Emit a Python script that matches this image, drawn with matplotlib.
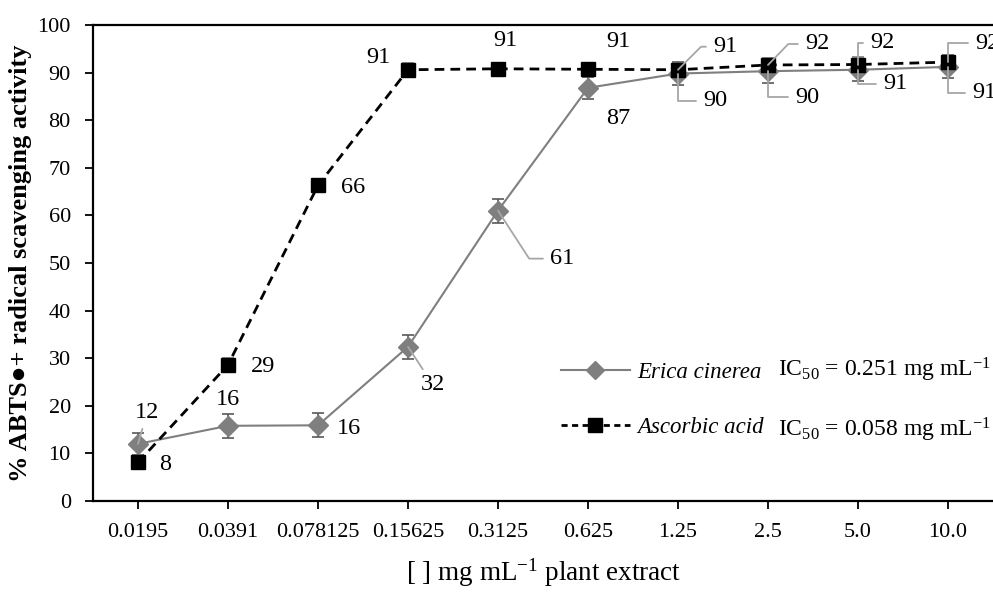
import matplotlib
matplotlib.use('Agg')
import matplotlib.pyplot as plt
from matplotlib.lines import Line2D

# concentrations (categorical x axis)
concentracoes = ['0.0195', '0.0391', '0.078125', '0.15625', '0.3125',
                 '0.625', '1.25', '2.5', '5.0', '10.0']

# % ABTS radical scavenging activity
erica = [12.0, 15.8, 15.9, 32.4, 61.0, 86.8, 89.8, 90.3, 90.6, 91.2]
erica_err = [2.3, 2.5, 2.5, 2.5, 2.5, 2.3, 2.5, 2.4, 2.3, 2.4]
ascorbico = [8.1, 28.6, 66.3, 90.6, 90.8, 90.7, 90.6, 91.6, 91.7, 92.2]
ascorbico_err = [1.4, 1.5, 1.3, 1.5, 1.3, 1.3, 1.3, 1.5, 1.5, 1.5]

# data label placement (offset in pixels, leader line connection)
erica_off = [(9, 31), (0, 26), (31, -3), (25, -38), (64, -48),
             (30, -31), (37, -27), (39, -26), (37, -14), (36, -26)]
erica_lead = ['line', None, None, 'line', 'angle,angleA=0,angleB=-57',
              None, 'angle,angleA=0,angleB=90', 'angle,angleA=0,angleB=90',
              'angle,angleA=0,angleB=90', 'angle,angleA=0,angleB=90']
asc_off = [(27, -2), (35, -2), (35, -2), (-30, 12), (7, 28),
           (30, 28), (47, 23), (49, 21), (24, 22), (39, 19)]
asc_lead = [None, None, None, None, None, None,
            'angle,angleA=0,angleB=45', 'angle,angleA=0,angleB=46',
            'angle,angleA=0,angleB=90', 'angle,angleA=0,angleB=90']

plt.rcParams['font.family'] = ['Liberation Serif', 'DejaVu Serif']
plt.rcParams['mathtext.fontset'] = 'custom'
plt.rcParams['mathtext.rm'] = 'Liberation Serif'
plt.rcParams['mathtext.it'] = 'Liberation Serif:italic'
plt.rcParams['mathtext.bf'] = 'Liberation Serif:bold'

fig = plt.figure(figsize=(9.93, 6.12), dpi=100)
ax = fig.add_axes([93 / 993, 1 - 501 / 612, 900 / 993, 476 / 612])

x = list(range(len(concentracoes)))
cinza = '#7f7f7f'
guia = '#a6a6a6'

ax.errorbar(x, erica, yerr=erica_err, color=cinza, lw=1.5, marker='D',
            ms=10, mfc=cinza, mec=cinza, ecolor='#595959', elinewidth=1.2,
            capsize=4, capthick=1.2, zorder=3)
ax.errorbar(x, ascorbico, yerr=ascorbico_err, color='black', lw=2,
            ls=(0, (3.5, 2.2)), marker='s', ms=10, mfc='black', mec='black',
            ecolor='#7f7f7f', elinewidth=1.2, capsize=4, capthick=1.2, zorder=4)


def rotular(valores, offsets, guias):
    for i, (v, off, g) in enumerate(zip(valores, offsets, guias)):
        props = None
        if g == 'line':
            props = dict(arrowstyle='-', color=guia, lw=1.3, shrinkA=2, shrinkB=0,
                         relpos=(0.5, 0.5))
        elif g is not None:
            props = dict(arrowstyle='-', color=guia, lw=1.3, shrinkA=3, shrinkB=0,
                         relpos=(0, 0.5), connectionstyle=g)
        ax.annotate(f'{v:.0f}', xy=(i, v), xytext=off, textcoords='offset pixels',
                    ha='center', va='center', fontsize=17.5, arrowprops=props,
                    zorder=6, annotation_clip=False)


rotular(erica, erica_off, erica_lead)
rotular(ascorbico, asc_off, asc_lead)

ax.set_xlim(-0.5, len(concentracoes) - 0.5)
ax.set_ylim(0, 100)
ax.set_xticks(x)
ax.set_xticklabels(concentracoes)
ax.set_yticks(range(0, 101, 10))
ax.tick_params(axis='both', labelsize=16, width=1.3, length=6, direction='out')
ax.tick_params(axis='y', pad=10)
ax.tick_params(axis='x', pad=10)
ax.spines['right'].set_visible(False)
for s in ['left', 'bottom', 'top']:
    ax.spines[s].set_linewidth(1.6)

ax.set_ylabel('% ABTS●+ radical scavenging activity', fontsize=19,
              fontweight='bold', va='center')
ax.yaxis.set_label_coords(-0.081, 0.5)
ax.set_xlabel(r'[ ] mg mL$^{-1}$ plant extract', fontsize=19.5, va='center')
ax.xaxis.set_label_coords(0.501, -0.151)

handles = [
    Line2D([], [], color=cinza, lw=1.5, marker='D', ms=9, mfc=cinza, mec=cinza),
    Line2D([], [], color='black', lw=2, ls=(0, (2.2, 1.6)), marker='s', ms=10,
           mfc='black', mec='black'),
]
leg = ax.legend(handles, ['Erica cinerea', 'Ascorbic acid'], loc='center left',
                bbox_to_anchor=(0.497, 0.212), frameon=False, handlelength=3.0,
                handletextpad=0.35, labelspacing=1.45, prop=dict(size=16.5, style='italic'))

ax.text(0.761, (501 - 370) / 476, r'IC$_{50}$ = 0.251 mg mL$^{-1}$',
        transform=ax.transAxes, fontsize=17, va='center', ha='left', clip_on=False)
ax.text(0.761, (501 - 430) / 476, r'IC$_{50}$ = 0.058 mg mL$^{-1}$',
        transform=ax.transAxes, fontsize=17, va='center', ha='left', clip_on=False)

fig.savefig('out.png', dpi=100)
